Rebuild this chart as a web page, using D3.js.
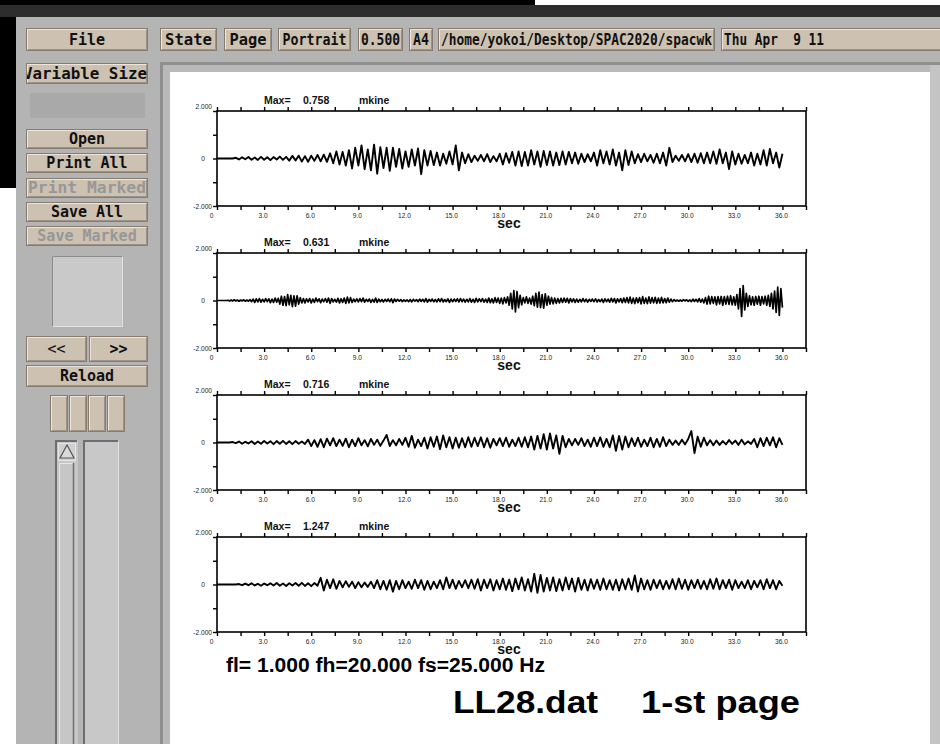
<!DOCTYPE html>
<html>
<head>
<meta charset="utf-8">
<script src="https://cdn.jsdelivr.net/npm/d3@7"></script>
<style>
  body { margin: 0; background: #fff; overflow: hidden; }
  svg { display: block; }
</style>
</head>
<body>
<div id="container"></div>
<script>
/* DATA */
// sampling of the hand-read traces (sec)
const stepCoarse = 0.2;
const stepFine = 0.1;

const maxValues = ["0.758", "0.631", "0.716", "1.247"];
const unitLabel = "mkine";
const filterLabel = "fl= 1.000 fh=20.000 fs=25.000 Hz";
const fileLabel = "LL28.dat";
const pageLabel = "1-st page";

const xTicks = [0, 1.5, 3, 4.5, 6, 7.5, 9, 10.5, 12, 13.5, 15, 16.5, 18, 19.5, 21, 22.5, 24, 25.5, 27, 28.5, 30, 31.5, 33, 34.5, 36, 37.5];
const xTickLabels = ["0", "", "3.0", "", "6.0", "", "9.0", "", "12.0", "", "15.0", "", "18.0", "", "21.0", "", "24.0", "", "27.0", "", "30.0", "", "33.0", "", "36.0", ""];
const yTicks = [2, 1, 0, -1, -2];
const yTickLabels = ["2.000", "", "0", "", "-2.000"];

// trace 1, every 0.2 s from 0 to 36 s
const trace1 = [
  0, 0, 0, 0, 0, 0,
  0.03, -0.04, 0.05, -0.03, 0.06, -0.05, 0.04, -0.06, 0.07, -0.05, 0.05, -0.07, 0.06, -0.04, 0.08, -0.06, 0.07,
  -0.09, 0.11, -0.08, 0.12, -0.13, 0.1, -0.14, 0.12, -0.1, 0.15, -0.12, 0.16, -0.14,
  0.22, -0.2, 0.3, -0.25, 0.28, -0.3, 0.35,
  -0.42, 0.45, -0.3, 0.55, -0.45, 0.38, -0.5, 0.58, -0.64, 0.48, -0.4, 0.45, -0.52, 0.45, -0.35, 0.4, -0.42, 0.3,
  -0.35, 0.38, -0.3, 0.42, -0.66, 0.35, -0.3, 0.32, -0.28, 0.25, -0.3, 0.2, -0.22, 0.3, -0.25, 0.55, -0.5, 0.25, -0.2, 0.18,
  -0.15, 0.12, -0.1, 0.15, -0.12, 0.18, -0.15, 0.1, -0.12, 0.2, -0.25, 0.22, -0.18, 0.28, -0.3,
  0.3, -0.32, 0.28, -0.3, 0.35, -0.25, 0.3, -0.35, 0.32, -0.28, 0.3, -0.3, 0.25, -0.28, 0.3,
  -0.25, 0.28, -0.2, 0.25, -0.22, 0.2, -0.15, 0.18, -0.12, 0.25, -0.3, 0.35, -0.2, 0.3, -0.25,
  0.38, -0.3, 0.25, -0.5, 0.35, -0.28, 0.3, -0.2, 0.18, -0.15, 0.2, -0.12, 0.15, -0.18, 0.2,
  -0.2, 0.25, -0.3, 0.45, -0.15, 0.12, -0.1, 0.15, -0.12, 0.18, -0.15, 0.2, -0.18, 0.22, -0.2,
  0.25, -0.2, 0.3, -0.22, 0.38, -0.2, 0.25, -0.45, 0.3, -0.25, 0.2, -0.22, 0.15, -0.2, 0.25,
  -0.3, 0.2, -0.25, 0.35, -0.3, 0.4, -0.2, 0.25, -0.38, 0.2
];

// trace 2, every 0.1 s from 0 to 36 s (high frequency record)
const trace2 = [
  0, 0, 0, 0, 0, 0, 0, 0.01, -0.02, 0.02,
  -0.02, 0.03, -0.02, 0.02, -0.03, 0.02, -0.02, 0.03, -0.03, 0.02,
  -0.03, 0.04, -0.05, 0.06, -0.08, 0.07, -0.06, 0.08, -0.07, 0.05,
  -0.06, 0.08, -0.05, 0.07, -0.09, 0.06, -0.08, 0.1, -0.07, 0.09,
  -0.15, 0.18, -0.2, 0.16, -0.22, 0.25, -0.18, 0.22, -0.26, 0.2,
  -0.24, 0.2, -0.15, 0.12, -0.1, 0.08, -0.1, 0.07, -0.06, 0.08,
  -0.1, 0.06, -0.08, 0.1, -0.05, 0.07, -0.09, 0.06, -0.05, 0.08,
  -0.07, 0.1, -0.12, 0.08, -0.06, 0.05, -0.07, 0.09, -0.1, 0.07,
  -0.08, 0.1, -0.12, 0.14, -0.1, 0.12, -0.08, 0.06, -0.05, 0.07,
  -0.06, 0.08, -0.05, 0.1, -0.07, 0.05, -0.04, 0.06, -0.08, 0.05,
  -0.07, 0.1, -0.08, 0.06, -0.05, 0.04, -0.06, 0.05, -0.04, 0.06,
  -0.05, 0.07, -0.09, 0.06, -0.04, 0.05, -0.03, 0.04, -0.05, 0.03,
  -0.04, 0.03, -0.05, 0.04, -0.06, 0.05, -0.03, 0.04, -0.05, 0.06,
  -0.04, 0.05, -0.06, 0.08, -0.07, 0.05, -0.04, 0.06, -0.05, 0.04,
  -0.06, 0.07, -0.05, 0.08, -0.06, 0.04, -0.05, 0.07, -0.08, 0.06,
  -0.05, 0.06, -0.04, 0.07, -0.06, 0.08, -0.05, 0.06, -0.07, 0.05,
  -0.06, 0.08, -0.07, 0.05, -0.08, 0.09, -0.06, 0.07, -0.05, 0.08,
  -0.07, 0.06, -0.08, 0.1, -0.09, 0.07, -0.1, 0.12, -0.08, 0.1,
  -0.12, 0.1, -0.14, 0.12, -0.1, 0.15, -0.2, 0.3, -0.35, 0.42,
  -0.48, 0.38, -0.3, 0.22, -0.18, 0.12, -0.1, 0.15, -0.12, 0.1,
  -0.15, 0.18, -0.22, 0.3, -0.28, 0.35, -0.3, 0.25, -0.32, 0.28,
  -0.2, 0.18, -0.15, 0.12, -0.14, 0.1, -0.12, 0.08, -0.1, 0.09,
  -0.08, 0.1, -0.07, 0.09, -0.1, 0.08, -0.06, 0.07, -0.08, 0.06,
  -0.07, 0.05, -0.06, 0.08, -0.05, 0.06, -0.07, 0.05, -0.04, 0.06,
  -0.05, 0.07, -0.06, 0.04, -0.05, 0.06, -0.08, 0.07, -0.05, 0.06,
  -0.07, 0.09, -0.06, 0.08, -0.1, 0.07, -0.06, 0.08, -0.09, 0.1,
  -0.08, 0.12, -0.1, 0.14, -0.12, 0.1, -0.13, 0.11, -0.09, 0.12,
  -0.14, 0.16, -0.12, 0.1, -0.13, 0.15, -0.11, 0.12, -0.1, 0.13,
  -0.12, 0.1, -0.11, 0.13, -0.1, 0.08, -0.09, 0.1, -0.07, 0.06,
  -0.05, 0.04, -0.03, 0.02, -0.03, 0.02, -0.03, 0.04, -0.02, 0.03,
  -0.04, 0.03, -0.05, 0.06, -0.04, 0.05, -0.06, 0.08, -0.07, 0.06,
  -0.1, 0.12, -0.15, 0.18, -0.14, 0.16, -0.12, 0.15, -0.18, 0.16,
  -0.14, 0.17, -0.2, 0.16, -0.15, 0.18, -0.16, 0.2, -0.18, 0.15,
  -0.2, 0.25, -0.35, 0.5, -0.67, 0.63, -0.4, 0.3, -0.25, 0.2,
  -0.18, 0.15, -0.2, 0.17, -0.15, 0.18, -0.2, 0.16, -0.14, 0.18,
  -0.2, 0.22, -0.25, 0.3, -0.35, 0.4, -0.5, 0.56, -0.63, 0.5,
  -0.3
];

// trace 3, every 0.2 s
const trace3 = [
  0, 0, 0, 0, 0, 0.02,
  -0.03, 0.04, -0.05, 0.03, -0.04, 0.05, -0.06, 0.04, -0.05, 0.06, -0.04, 0.05, -0.07, 0.06, -0.05, 0.07, -0.06, 0.05, -0.07, 0.06, -0.05, 0.04, -0.06,
  0.12, -0.15, 0.1, -0.18, 0.14, -0.2, 0.16, -0.12, 0.18, -0.15, 0.12, -0.14, 0.16, -0.2, 0.12, -0.15, 0.18, -0.12, 0.1, -0.16, 0.15, -0.1, 0.12, -0.14, 0.08, 0.32,
  -0.15, 0.1, -0.12, 0.15, -0.1, 0.2, -0.18, 0.28, -0.22, 0.12, -0.15, 0.2, -0.25, 0.22, -0.18, 0.25, -0.28, 0.3, -0.2, 0.22, -0.25, 0.2, -0.22, 0.18, -0.2, 0.22,
  -0.18, 0.2, -0.15, 0.22, -0.2, 0.18, -0.22, 0.15, -0.12, 0.18, -0.15, 0.2, -0.18, 0.12, -0.15, 0.2, -0.18, 0.22, -0.2, 0.25, -0.3, 0.28, -0.25, 0.35, -0.3,
  0.38, -0.25, 0.3, -0.48, 0.28, -0.2, 0.15, -0.12, 0.15, -0.1, 0.18, -0.15, 0.12, -0.18, 0.2, -0.15, 0.22, -0.18, 0.15, -0.2, 0.3, -0.35, 0.28, -0.3, 0.25,
  -0.2, 0.18, -0.15, 0.2, -0.18, 0.12, -0.15, 0.2, -0.2, 0.15, -0.18, 0.22, -0.15, 0.12, -0.1, 0.08, -0.1, 0.12, -0.08, 0.15,
  0.48, -0.45, 0.25, -0.18, 0.2, -0.12, 0.1, -0.12, 0.08, -0.1, 0.06, -0.08, 0.1, -0.06, 0.08,
  -0.1, 0.12, -0.08, 0.05, -0.06, 0.15, -0.2, 0.18, -0.15, 0.2, -0.12, 0.22, -0.2, 0.18, -0.1
];

// trace 4, every 0.2 s
const trace4 = [
  0, 0, 0, 0, 0, 0, 0, 0.02,
  -0.03, 0.04, -0.03, 0.05, -0.04, 0.03, -0.05, 0.04, -0.03, 0.05, -0.04, 0.06, -0.05, 0.04, -0.06, 0.05, -0.04, 0.06, -0.05, 0.07, -0.06, 0.05, -0.07, 0.06, -0.05,
  0.28, -0.25, 0.2, -0.15, 0.22, -0.18, 0.15, -0.12, 0.14, -0.1, 0.12, -0.15, 0.1, -0.12, 0.08, -0.1, 0.12, -0.15, 0.18, -0.2, 0.15, -0.22, 0.18,
  -0.3, 0.15, -0.2, 0.18, -0.15, 0.12, -0.18, 0.2, -0.15, 0.18, -0.22, 0.15, -0.2, 0.12, -0.15, 0.18, -0.2, 0.3, -0.15, 0.2, -0.18, 0.15, -0.12, 0.18, -0.15,
  0.2, -0.18, 0.22, -0.25, 0.2, -0.15, 0.22, -0.25, 0.18, -0.2, 0.25, -0.22, 0.2, -0.28, 0.25, -0.2, 0.3, -0.25, 0.22, -0.3, 0.45, -0.35, 0.4, -0.3, 0.28,
  -0.25, 0.3, -0.28, 0.22, -0.25, 0.3, -0.2, 0.25, -0.3, 0.28, -0.22, 0.2, -0.25, 0.22, -0.18, 0.2, -0.22, 0.25, -0.2, 0.18, -0.22, 0.2, -0.25, 0.22, -0.2,
  0.25, -0.22, 0.38, -0.3, 0.25, -0.2, 0.18, -0.22, 0.2, -0.15, 0.18, -0.2, 0.15, -0.18, 0.22, -0.2, 0.25, -0.18, 0.2, -0.22, 0.18, -0.15, 0.2, -0.18, 0.15,
  -0.2, 0.22, -0.18, 0.25, -0.2, 0.18, -0.15, 0.2, -0.22, 0.18, -0.15, 0.12, -0.15, 0.18, -0.2, 0.15, -0.12, 0.18, -0.2, 0.22, -0.15, 0.18, -0.2, 0.15, -0.05
];

/* GUI LABELS */
const topBarLabels = ["State", "Page", "Portrait", "0.500", "A4", "/home/yokoi/Desktop/SPAC2020/spacwk", "Thu Apr  9 11"];
const sideLabels = ["Open", "Print All", "Print Marked", "Save All", "Save Marked"];

/* LAYOUT */
const width = 940, height = 744;
const plot = { left: 217, right: 806, height: 95, firstTop: 111, gap: 142 };
const tan = "#cdc1b1", winGrey = "#b4b4b4";

const svg = d3.select("#container")
  .append("svg")
  .attr("width", width)
  .attr("height", height);

// window chrome
svg.append("rect").attr("width", width).attr("height", height).attr("fill", "#fff");
svg.append("rect").attr("x", 0).attr("y", 0).attr("width", 535).attr("height", 6).attr("fill", "#000");
svg.append("rect").attr("x", 0).attr("y", 5).attr("width", width).attr("height", 12).attr("fill", "#2d2d2d");
svg.append("rect").attr("x", 0).attr("y", 17).attr("width", 16).attr("height", 171).attr("fill", "#000");
svg.append("rect").attr("x", 16).attr("y", 17).attr("width", width - 16).attr("height", height - 17).attr("fill", winGrey);

function button(x, y, w, h, label, opts = {}) {
  const g = svg.append("g");
  g.append("rect").attr("x", x + 0.5).attr("y", y + 0.5).attr("width", w - 1).attr("height", h - 1)
    .attr("fill", tan).attr("stroke", "#857b6f");
  g.append("path").attr("d", `M${x + 1.5},${y + h - 2}V${y + 1.5}H${x + w - 2}`)
    .attr("fill", "none").attr("stroke", "#eee6dc");
  g.append("path").attr("d", `M${x + 2},${y + h - 1.5}H${x + w - 1.5}V${y + 2}`)
    .attr("fill", "none").attr("stroke", "#9c9285");
  if (!label) return g;
  const clipId = "clip" + Math.round(x) + "_" + Math.round(y);
  g.append("clipPath").attr("id", clipId)
    .append("rect").attr("x", x + 1).attr("y", y).attr("width", w - 2).attr("height", h);
  const t = g.append("text")
    .attr("clip-path", `url(#${clipId})`)
    .attr("x", opts.anchor === "end" ? x + w - 1 : opts.anchor === "start" ? x + 3 : x + w / 2)
    .attr("y", y + h / 2 + 5)
    .attr("text-anchor", opts.anchor || "middle")
    .style("white-space", "pre")
    .style("font-family", "'DejaVu Sans Mono', 'Liberation Mono', monospace")
    .style("font-weight", opts.regular ? "normal" : "bold")
    .style("font-size", (opts.size || 15) + "px")
    .attr("fill", opts.disabled ? "#979797" : "#111")
    .text(label);
  if (opts.textLength) t.attr("textLength", opts.textLength).attr("lengthAdjust", "spacingAndGlyphs");
  return g;
}

// top bar
button(26, 28, 122, 23, "File");
const topBar = [
  { x: 160, w: 57, tl: 47 }, { x: 224, w: 48, tl: 37 }, { x: 278, w: 73, tl: 64 },
  { x: 358, w: 45, tl: 39 }, { x: 409, w: 24, tl: 16 }, { x: 438, w: 277, tl: 271 },
  { x: 721, w: 240, tl: 100, anchor: "start" }
];
topBar.forEach((b, i) => button(b.x, 28, b.w, 23, topBarLabels[i], { textLength: b.tl, anchor: b.anchor }));

// left panel
button(26, 63, 122, 21, "Variable Size", { anchor: "end", textLength: 124 });
svg.append("rect").attr("x", 30).attr("y", 93).attr("width", 115).attr("height", 25).attr("fill", "#a9a9a9");

const sideY = [129, 153, 178, 202, 226];
sideLabels.forEach((label, i) => button(26, sideY[i], 122, 20, label, { disabled: label.includes("Marked"), textLength: label === "Print Marked" ? 118 : null }));

svg.append("rect").attr("x", 52.5).attr("y", 256.5).attr("width", 70).attr("height", 70)
  .attr("fill", "#c9c9c9").attr("stroke", "#e2e2e2");
svg.append("path").attr("d", "M52.5,326.5V256.5H122.5").attr("fill", "none").attr("stroke", "#8c8c8c");

button(26, 336, 61, 26, "<<", { regular: true });
button(89, 336, 59, 26, ">>");
button(26, 365, 122, 22, "Reload");
[50, 69, 88, 107].forEach(x => button(x, 395, 18, 37, ""));

// scrollbars
svg.append("rect").attr("x", 55).attr("y", 440).attr("width", 23).attr("height", 310).attr("fill", "#c6c6c6");
svg.append("path").attr("d", "M56,750V441H77").attr("fill", "none").attr("stroke", "#6e6e6e").attr("stroke-width", 2);
svg.append("rect").attr("x", 58.5).attr("y", 443.5).attr("width", 17).attr("height", 17).attr("fill", "#cfcfcf").attr("stroke", "#e4e4e4");
svg.append("path").attr("d", "M67,445L60,458H74Z").attr("fill", "#dadada").attr("stroke", "#555").attr("stroke-width", 1.2);
svg.append("path").attr("d", "M59.5,750V463.5H74").attr("fill", "none").attr("stroke", "#e6e6e6");
svg.append("path").attr("d", "M73.5,463V750").attr("fill", "none").attr("stroke", "#6e6e6e").attr("stroke-width", 1.5);
svg.append("rect").attr("x", 83).attr("y", 440).attr("width", 36).attr("height", 310).attr("fill", "#c8c8c8");
svg.append("path").attr("d", "M84,750V441H118").attr("fill", "none").attr("stroke", "#6e6e6e").attr("stroke-width", 2);
svg.append("path").attr("d", "M118.5,442V750").attr("fill", "none").attr("stroke", "#e4e4e4");

// page frame
svg.append("rect").attr("x", 160).attr("y", 62).attr("width", 780).attr("height", 700).attr("fill", "#8f8f8f");
svg.append("rect").attr("x", 163).attr("y", 65).attr("width", 777).attr("height", 700).attr("fill", "#b9b9b9");
svg.append("rect").attr("x", 930).attr("y", 65).attr("width", 10).attr("height", 700).attr("fill", "#c4c4c4");
svg.append("rect").attr("x", 170).attr("y", 72).attr("width", 760).attr("height", 700).attr("fill", "#fff");

/* SCALES */
const xScale = d3.scaleLinear().domain([0, 37.5]).range([plot.left, plot.right]);

const traces = [trace1, trace2, trace3, trace4];
const steps = [stepCoarse, stepFine, stepCoarse, stepCoarse];
const labelFont = "'Liberation Sans', Arial, Helvetica, sans-serif";

traces.forEach((values, i) => {
  const top = plot.firstTop + i * plot.gap;
  const bottom = top + plot.height;
  const yScale = d3.scaleLinear().domain([-2, 2]).range([bottom, top]);
  const g = svg.append("g");

  // top axis, ticks only
  const topAxis = g.append("g")
    .attr("transform", `translate(0,${top})`)
    .call(d3.axisTop(xScale).tickValues(xTicks).tickSize(4).tickSizeOuter(0).tickFormat(""));

  // bottom axis with labels every 3 s
  const bottomAxis = g.append("g")
    .attr("transform", `translate(0,${bottom})`)
    .call(d3.axisBottom(xScale).tickValues(xTicks).tickSize(4).tickSizeOuter(0).tickPadding(3)
      .tickFormat((d, j) => xTickLabels[j]));
  bottomAxis.selectAll(".tick text")
    .attr("dx", d => d === 0 ? -6 : -1.5);

  // left axis
  const leftAxis = g.append("g")
    .attr("transform", `translate(${plot.left},0)`)
    .call(d3.axisLeft(yScale).tickValues(yTicks).tickSize(4).tickSizeOuter(0).tickPadding(1)
      .tickFormat((d, j) => yTickLabels[j]));
  leftAxis.selectAll(".tick text")
    .attr("x", d => d === 0 ? -12 : -5)
    .attr("dy", d => d === 2 ? "-0.35em" : d === -2 ? "0.45em" : "0.35em");

  [topAxis, bottomAxis, leftAxis].forEach(a => {
    a.select(".domain").remove();
    a.selectAll(".tick line").attr("stroke", "#000").attr("stroke-width", 1.4);
    a.selectAll(".tick text")
      .style("font-family", labelFont)
      .style("font-size", "6.6px")
      .attr("fill", "#222");
  });

  // plot frame
  g.append("rect")
    .attr("x", plot.left).attr("y", top)
    .attr("width", plot.right - plot.left).attr("height", plot.height)
    .attr("fill", "none").attr("stroke", "#000").attr("stroke-width", 1.6);

  // waveform
  const line = d3.line()
    .x((d, j) => xScale(j * steps[i]))
    .y(d => yScale(d));
  g.append("path")
    .datum(values)
    .attr("d", line)
    .attr("fill", "none")
    .attr("stroke", "#000")
    .attr("stroke-width", i === 1 ? 1.7 : 1.9)
    .attr("stroke-linejoin", "round");

  // header
  const header = g.append("text")
    .attr("y", top - 7)
    .style("font-family", labelFont)
    .style("font-weight", "bold")
    .style("font-size", "10.5px")
    .attr("fill", "#111");
  header.append("tspan").attr("x", 264).text("Max=");
  header.append("tspan").attr("x", 303).text(maxValues[i]);
  header.append("tspan").attr("x", 359).text(unitLabel);

  // axis title
  g.append("text")
    .attr("x", 509)
    .attr("y", bottom + 22)
    .attr("text-anchor", "middle")
    .style("font-family", labelFont)
    .style("font-weight", "bold")
    .style("font-size", "14px")
    .attr("fill", "#111")
    .text("sec");
});

// footer texts
svg.append("text")
  .attr("x", 226).attr("y", 672)
  .attr("textLength", 319).attr("lengthAdjust", "spacingAndGlyphs")
  .style("font-family", labelFont)
  .style("font-weight", "bold")
  .style("font-size", "20px")
  .attr("fill", "#000")
  .text(filterLabel);

svg.append("text")
  .attr("x", 453).attr("y", 713)
  .attr("textLength", 145).attr("lengthAdjust", "spacingAndGlyphs")
  .style("font-family", labelFont)
  .style("font-weight", "bold")
  .style("font-size", "31px")
  .attr("fill", "#000")
  .text(fileLabel);

svg.append("text")
  .attr("x", 641).attr("y", 713)
  .attr("textLength", 159).attr("lengthAdjust", "spacingAndGlyphs")
  .style("font-family", labelFont)
  .style("font-weight", "bold")
  .style("font-size", "31px")
  .attr("fill", "#000")
  .text(pageLabel);
</script>
</body>
</html>
